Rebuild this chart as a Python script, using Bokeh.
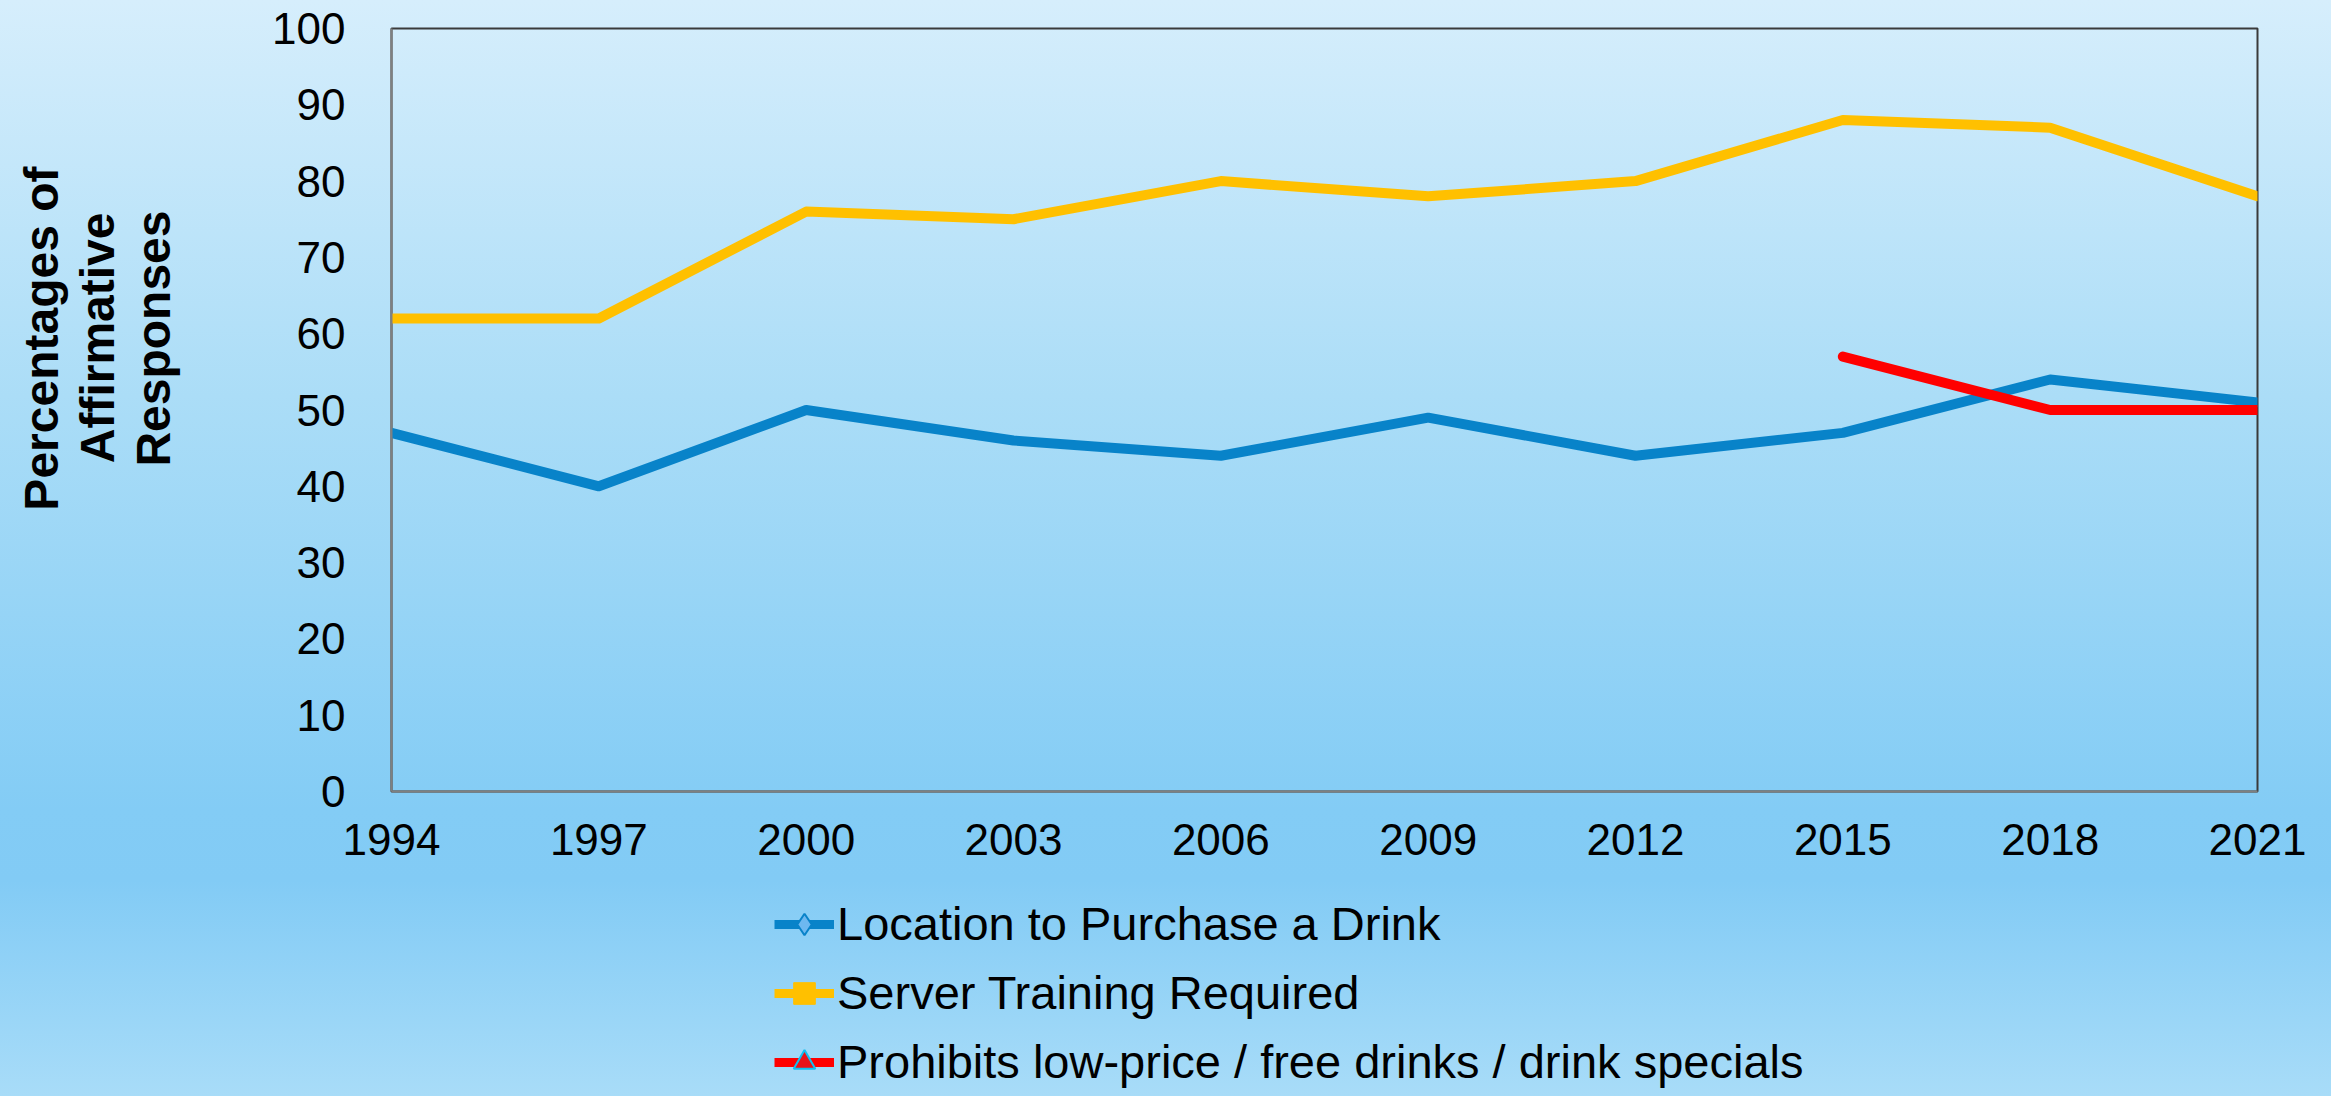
from bokeh.plotting import figure
from bokeh.layouts import column
from bokeh.models import FixedTicker, Range1d, Legend, LegendItem, Title
from bokeh.embed import file_html
from bokeh.resources import INLINE

# ---- data ----
years = [1994, 1997, 2000, 2003, 2006, 2009, 2012, 2015, 2018, 2021]
location_purchase = [47, 40, 50, 46, 44, 49, 44, 47, 54, 51]
server_training = [62, 62, 76, 75, 80, 78, 80, 88, 87, 78]
prohibit_years = [2015, 2018, 2021]
prohibit_specials = [57, 50, 50]
y_ticks = [0, 10, 20, 30, 40, 50, 60, 70, 80, 90, 100]
series_names = [
    "Location to Purchase a Drink",
    "Server Training Required",
    "Prohibits low-price / free drinks / drink specials",
]
y_title_lines = ["Percentages of", "Affirmative", "Responses"]
colors = ["#0883C9", "#FFC000", "#FF0000"]

FONT = "Liberation Sans"

# ---------------- main chart ----------------
p = figure(width=2331, height=880, frame_width=1866, frame_height=763,
           x_range=Range1d(1994, 2021), y_range=Range1d(0, 100),
           output_backend="svg", toolbar_location=None,
           min_border_left=391, min_border_right=74,
           min_border_top=28, min_border_bottom=89)
p.title.visible = False
p.background_fill_alpha = 0
p.border_fill_alpha = 0
p.styles = {"background": "linear-gradient(to bottom, #D6EEFC 0%, #ABDDF7 45%, #83CCF5 92%, #82CBF5 100%)"}
p.outline_line_color = "#3a3a3a"
p.outline_line_width = 2
p.grid.visible = False

p.xaxis.ticker = FixedTicker(ticks=years)
p.yaxis.ticker = FixedTicker(ticks=y_ticks)
for ax in (p.xaxis[0], p.yaxis[0]):
    ax.major_tick_line_color = None
    ax.minor_tick_line_color = None
    ax.axis_line_color = "#808080"
    ax.axis_line_width = 2
    ax.major_label_text_font = FONT
    ax.major_label_text_font_size = "44px"
    ax.major_label_text_color = "black"
p.xaxis.major_label_standoff = 26
p.yaxis.major_label_standoff = 40
# blank spacer label keeps the title block away from the tick labels
p.yaxis.axis_label = " "
p.yaxis.axis_label_text_font_size = "10px"
p.yaxis.axis_label_standoff = 75

p.line(years, location_purchase, line_color=colors[0], line_width=10,
       line_join="round", line_cap="round")
p.line(years, server_training, line_color=colors[1], line_width=10,
       line_join="round", line_cap="round")
p.line(prohibit_years, prohibit_specials, line_color=colors[2], line_width=10,
       line_join="round", line_cap="round")

# y-axis title: three centred lines, added from the axis outward
title_offsets = {"Responses": 182, "Affirmative": 184, "Percentages of": 138}
for line in reversed(y_title_lines):
    p.add_layout(Title(text=line, align="right", offset=title_offsets[line],
                       standoff=1, text_font=FONT, text_font_size="48px",
                       text_font_style="bold", text_color="black"), "left")

# ---------------- legend strip ----------------
q = figure(width=2331, height=216, x_range=Range1d(0, 1), y_range=Range1d(0, 1),
           output_backend="svg", toolbar_location=None,
           x_axis_location=None, y_axis_location=None,
           min_border_left=0, min_border_right=0, min_border_top=0, min_border_bottom=0)
q.title.visible = False
q.grid.visible = False
q.outline_line_color = None
q.background_fill_alpha = 0
q.border_fill_alpha = 0
q.styles = {"background": "linear-gradient(to bottom, #82CBF5 0%, #A8DCF8 100%)"}

# series drawn outside this strip's visible range: they only supply legend symbols
l_loc = q.line(years, location_purchase, line_color=colors[0], line_width=9)
l_srv = q.line(years, server_training, line_color=colors[1], line_width=9)
l_pro = q.line(prohibit_years, prohibit_specials, line_color=colors[2], line_width=9)
k_loc = q.scatter(years, location_purchase, marker="diamond", size=22,
                  fill_color="#6DB8F0", line_color=colors[0], line_width=2)
k_srv = q.scatter(years, server_training, marker="square", size=18,
                  fill_color="#FFC000", line_color="#FFC000", line_width=1)
k_pro = q.scatter(prohibit_years, prohibit_specials, marker="triangle", size=20,
                  fill_color="#E8141B", line_color="#10C0F0", line_width=2)

legend = Legend(items=[
    LegendItem(label=series_names[0], renderers=[l_loc, k_loc]),
    LegendItem(label=series_names[1], renderers=[l_srv, k_srv]),
    LegendItem(label=series_names[2], renderers=[l_pro, k_pro]),
], location=(383, 7))
legend.glyph_width = 60
legend.glyph_height = 54
legend.label_height = 54
legend.label_standoff = 3
legend.spacing = 14
legend.padding = 0
legend.margin = 0
legend.label_text_font = FONT
legend.label_text_font_size = "47px"
legend.label_text_color = "black"
legend.background_fill_alpha = 0
legend.border_line_alpha = 0
q.add_layout(legend)

page = column(p, q, spacing=0)
open("out.html", "w").write(file_html(page, INLINE))
